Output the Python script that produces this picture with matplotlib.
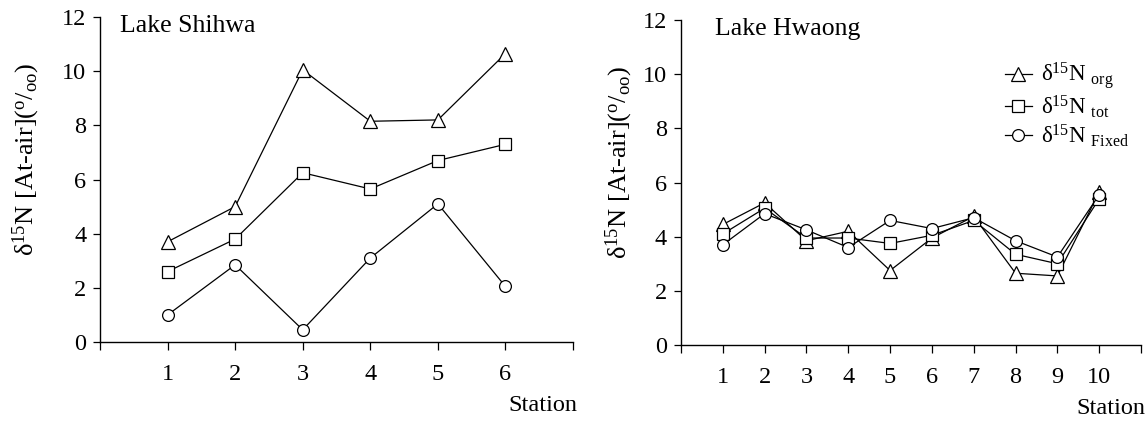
import matplotlib
matplotlib.use("Agg")
import matplotlib.pyplot as plt

plt.rcParams["font.family"] = ["Liberation Serif", "DejaVu Serif"]
plt.rcParams["mathtext.fontset"] = "custom"
plt.rcParams["mathtext.rm"] = "Liberation Serif"
plt.rcParams["mathtext.it"] = "Liberation Serif:italic"
plt.rcParams["mathtext.bf"] = "Liberation Serif:bold"

# ── Data ────────────────────────────────────────────────────────────────────
shihwa_station = [1, 2, 3, 4, 5, 6]
shihwa_org = [3.7, 5.0, 10.05, 8.15, 8.2, 10.65]
shihwa_tot = [2.6, 3.8, 6.25, 5.65, 6.7, 7.3]
shihwa_fixed = [1.0, 2.85, 0.45, 3.1, 5.1, 2.05]

hwaong_station = [1, 2, 3, 4, 5, 6, 7, 8, 9, 10]
hwaong_org = [4.45, 5.25, 3.85, 4.2, 2.75, 3.95, 4.75, 2.65, 2.55, 5.65]
hwaong_tot = [4.1, 5.05, 3.95, 3.95, 3.75, 4.05, 4.6, 3.35, 3.0, 5.4]
hwaong_fixed = [3.7, 4.85, 4.25, 3.6, 4.6, 4.3, 4.7, 3.85, 3.25, 5.55]

SERIES_LABELS = [r"δ$^{15}$N $_{\rm org}$",
                 r"δ$^{15}$N $_{\rm tot}$",
                 r"δ$^{15}$N $_{\rm Fixed}$"]
MARKERS = ["^", "s", "o"]
MSIZE = [10, 8, 8.5]

YLABEL = r"δ$^{15}$N [At-air]($^{\rm o}$/$_{\rm oo}$)"

fig = plt.figure(figsize=(11.47, 4.23), dpi=100)
ax1 = fig.add_axes([0.0872, 0.1915, 0.4124, 0.7683])
ax2 = fig.add_axes([0.5937, 0.1844, 0.4011, 0.7683])

panels = [
    (ax1, "Lake Shihwa", shihwa_station,
     [shihwa_org, shihwa_tot, shihwa_fixed], 7, 0.042, -0.155),
    (ax2, "Lake Hwaong", hwaong_station,
     [hwaong_org, hwaong_tot, hwaong_fixed], 11, 0.074, -0.133),
]

for ax, title, xs, ys_list, xmax, tx, ylx in panels:
    for ys, mk, ms, lab in zip(ys_list, MARKERS, MSIZE, SERIES_LABELS):
        ax.plot(xs, ys, color="black", linewidth=0.9, marker=mk,
                markersize=ms, markerfacecolor="white",
                markeredgecolor="black", markeredgewidth=0.9,
                label=lab, clip_on=False, zorder=3)

    ax.set_xlim(0, xmax)
    ax.set_ylim(0, 12)
    ax.set_yticks(range(0, 13, 2))
    ax.set_xticks(range(0, xmax + 1))
    ax.set_xticklabels([""] + [str(s) for s in xs] + [""] * (xmax - len(xs)))

    for side in ("top", "right"):
        ax.spines[side].set_visible(False)
    for side in ("left", "bottom"):
        ax.spines[side].set_linewidth(1.0)

    ax.tick_params(axis="y", direction="out", length=5, width=0.9,
                   labelsize=17.5, pad=5)
    ax.tick_params(axis="x", direction="out", length=6, width=0.9,
                   labelsize=17.5, pad=10)

    ax.text(tx, 1.005, title, transform=ax.transAxes, ha="left", va="top",
            fontsize=18.5)

    ax.set_ylabel(YLABEL, fontsize=19, va="center")
    ax.yaxis.set_label_coords(ylx, 0.56)

    ax.text(1.01, -0.195, "Station", transform=ax.transAxes,
            ha="right", va="center", fontsize=17.5)

leg = ax2.legend(loc="upper right", bbox_to_anchor=(1.01, 0.925),
                 frameon=False, fontsize=16.5, handlelength=1.2,
                 handletextpad=0.4, labelspacing=0.1, borderpad=0.2)

fig.savefig("out.png", dpi=100)
